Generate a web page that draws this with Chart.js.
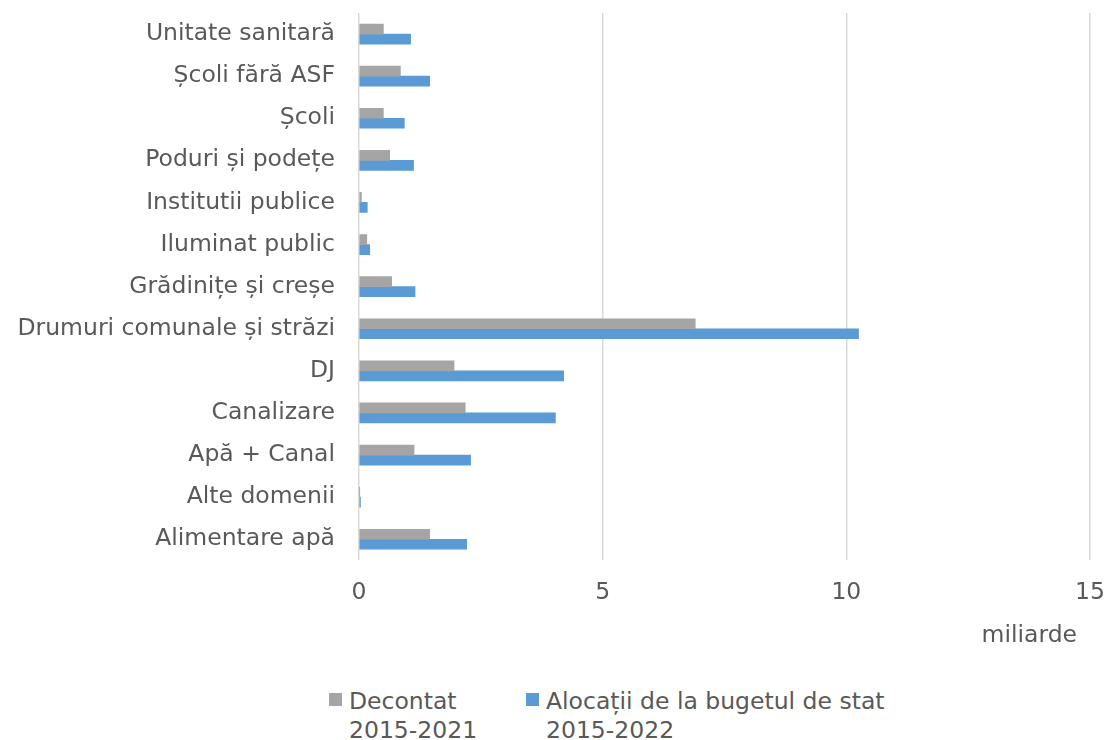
<!DOCTYPE html>
<html>
<head>
<meta charset="utf-8">
<script src="https://cdn.jsdelivr.net/npm/chart.js@4"></script>
<style>
  html, body { margin: 0; padding: 0; background: #fff; }
  body { width: 1108px; height: 740px; position: relative; overflow: hidden; font-family: "DejaVu Sans", sans-serif; color: #595959; }
  #wrap { position: absolute; left: 0; top: 0; width: 1108px; height: 652px; }
  .leg { position: absolute; top: 687px; font-size: 23.5px; line-height: 29px; white-space: nowrap; }
  .leg i { position: absolute; left: 0; top: 6px; width: 13px; height: 13px; }
  .leg span { display: block; padding-left: 20px; }
</style>
</head>
<body>
<div id="wrap"><canvas id="canvas"></canvas></div>
<div class="leg" style="left:329px"><i style="background:#a5a5a5"></i><span>Decontat<br>2015-2021</span></div>
<div class="leg" style="left:526px"><i style="background:#5b9bd5"></i><span>Alocații de la bugetul de stat<br>2015-2022</span></div>
<script>
// categorii, de sus in jos
const categories = ['Unitate sanitară', 'Școli fără ASF', 'Școli', 'Poduri și podețe', 'Institutii publice',
  'Iluminat public', 'Grădinițe și creșe', 'Drumuri comunale și străzi', 'DJ', 'Canalizare',
  'Apă + Canal', 'Alte domenii', 'Alimentare apă']

// miliarde lei
const decontat = [0.50, 0.85, 0.50, 0.63, 0.05, 0.16, 0.67, 6.90, 1.95, 2.18, 1.13, 0.01, 1.45]
const alocatii = [1.06, 1.45, 0.93, 1.12, 0.17, 0.22, 1.15, 10.25, 4.20, 4.03, 2.29, 0.03, 2.21]

const xTicks = [0, 5, 10, 15]

const textColor = '#595959'
const font = { family: 'DejaVu Sans', size: 23.5 }

const data = {
  labels: categories,
  datasets: [
    { label: 'Decontat 2015-2021', data: decontat, backgroundColor: '#a5a5a5', barThickness: 10 },
    { label: 'Alocații de la bugetul de stat 2015-2022', data: alocatii, backgroundColor: '#5b9bd5', barThickness: 10 },
  ],
}

// titlul axei x, putin la stanga de capatul axei
const unitTitle = {
  id: 'unitTitle',
  afterDraw(chart) {
    const x = chart.scales.x
    const ctx = chart.ctx
    ctx.save()
    ctx.fillStyle = textColor
    ctx.font = '23.5px "DejaVu Sans"'
    ctx.textAlign = 'right'
    ctx.textBaseline = 'middle'
    ctx.fillText('miliarde', x.right - 13, x.bottom - 16)
    ctx.restore()
  }
}

const config = {
  type: 'bar',
  data: data,
  plugins: [unitTitle],
  options: {
    indexAxis: 'y',
    responsive: true,
    maintainAspectRatio: false,
    animation: false,
    layout: { padding: { top: 13, right: 18, left: 10, bottom: 0 } },
    plugins: { legend: { display: false }, tooltip: { enabled: false } },
    scales: {
      x: {
        min: 0, max: 15,
        afterBuildTicks: axis => { axis.ticks = xTicks.map(v => ({ value: v })) },
        afterFit: s => { s.paddingRight = 0; s.paddingLeft = 0 },
        grid: { color: '#d9d9d9', lineWidth: 1.5, drawTicks: false },
        border: { display: false },
        ticks: { color: textColor, font: font, padding: 18, maxRotation: 0 },
        // doar pentru spatiu; textul e desenat de unitTitle
        title: { display: true, text: 'miliarde', color: 'rgba(0,0,0,0)',
          font: { family: 'DejaVu Sans', size: 23.5, lineHeight: 1 }, padding: { top: 0, bottom: 4 } },
      },
      y: {
        grid: { display: false, drawTicks: false },
        border: { display: false },
        ticks: { color: textColor, font: font, padding: 24, autoSkip: false },
        // latime fixa a axei + etichetele nu imping zona graficului
        afterFit: s => { s.width = 349; s.paddingTop = 0; s.paddingBottom = 0 },
      },
    },
  },
}

const canvas = document.getElementById('canvas')
const chart = new Chart(canvas, config)
</script>
</body>
</html>
